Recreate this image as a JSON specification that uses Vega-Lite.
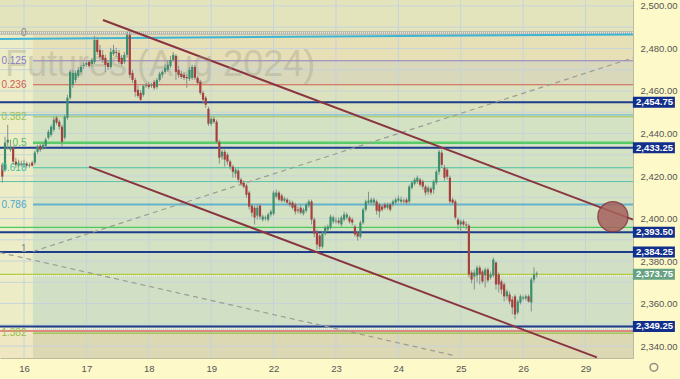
{
  "$schema": "https://vega.github.io/schema/vega-lite/v6.json",
  "width": 633,
  "height": 358,
  "autosize": {"type": "none"},
  "padding": {"left": 0, "top": 0, "right": 47, "bottom": 21},
  "background": "#fdf9c9",
  "config": {"view": {"stroke": null}, "font": "Liberation Sans"},
  "resolve": {"scale": {"color": "independent"}},
  "datasets": {
    "zones": [
      {"z": "top", "b1": -8.85, "b2": 224.5, "lo": 2487.3, "hi": 2502.8},
      {"z": "strip", "b1": -8.85, "b2": 3.3, "lo": 2346.0, "hi": 2487.3},
      {"z": "strip-low", "b1": -8.85, "b2": 3.3, "lo": 2334.4, "hi": 2346.0},
      {"z": "0-0.125", "b1": 3.3, "b2": 224.5, "lo": 2474.2, "hi": 2487.3},
      {"z": "0.125-0.236", "b1": 3.3, "b2": 224.5, "lo": 2462.9, "hi": 2474.2},
      {"z": "0.236-0.382", "b1": 3.3, "b2": 224.5, "lo": 2447.9, "hi": 2462.9},
      {"z": "0.382-1", "b1": 3.3, "b2": 224.5, "lo": 2384.25, "hi": 2447.9},
      {"z": "1-1.382", "b1": 3.3, "b2": 224.5, "lo": 2346.0, "hi": 2384.25},
      {"z": "beyond", "b1": 3.3, "b2": 224.5, "lo": 2334.4, "hi": 2346.0}
    ],
    "gridy": [{"p": 2340}, {"p": 2350}, {"p": 2360}, {"p": 2370}, {"p": 2380}, {"p": 2390}, {"p": 2400}, {"p": 2410}, {"p": 2420}, {"p": 2430}, {"p": 2440}, {"p": 2450}, {"p": 2460}, {"p": 2470}, {"p": 2480}, {"p": 2490}, {"p": 2500}],
    "gridx": [{"b": 0}, {"b": 23}, {"b": 46}, {"b": 69}, {"b": 92}, {"b": 115}, {"b": 138}, {"b": 161}, {"b": 184}, {"b": 207}],
    "fib": [
      {"lvl": "0.125", "p": 2474.2},
      {"lvl": "0.236", "p": 2462.9},
      {"lvl": "0.382", "p": 2447.9},
      {"lvl": "0.5", "p": 2435.7},
      {"lvl": "0.618", "p": 2423.9},
      {"lvl": "0.786", "p": 2406.6},
      {"lvl": "1.382", "p": 2346.0}
    ],
    "keylevels": [
      {"kind": "zero", "p": 2487.3},
      {"kind": "support", "p": 2454.75},
      {"kind": "aux-blue", "p": 2448.8},
      {"kind": "support", "p": 2433.25},
      {"kind": "aux-teal", "p": 2417.4},
      {"kind": "aux-green", "p": 2395.8},
      {"kind": "support", "p": 2393.5},
      {"kind": "support", "p": 2384.25},
      {"kind": "last", "p": 2373.75},
      {"kind": "support", "p": 2349.25},
      {"kind": "aux-red", "p": 2347.1}
    ],
    "dotted": [{"p": 2487.3}, {"p": 2373.0}, {"p": 2348.2}],
    "trends": [
      {"id": "cyan", "b": -8.85, "p": 2484.5},
      {"id": "cyan", "b": 224.5, "p": 2486.6},
      {"id": "upper", "b": 29.1, "p": 2493.4},
      {"id": "upper", "b": 224.5, "p": 2399.5},
      {"id": "lower", "b": 24.0, "p": 2424.4},
      {"id": "lower", "b": 211.2, "p": 2334.7}
    ],
    "guides": [
      {"id": "up", "b": 3.3, "p": 2384.5},
      {"id": "up", "b": 224.5, "p": 2475.6},
      {"id": "down", "b": -8.85, "p": 2384.0},
      {"id": "down", "b": 158.1, "p": 2335.7}
    ],
    "watermark": [{"text": "Futures (Aug 2024)", "b": -7, "p": 2472.0}],
    "candles": [
      {"b":-8,"o":2425.3,"c":2419.7,"h":2426.3,"l":2416.9},
      {"b":-7,"o":2423.0,"c":2435.7,"h":2438.5,"l":2422.0},
      {"b":-6,"o":2435.7,"c":2437.1,"h":2444.1,"l":2432.4},
      {"b":-5,"o":2432.4,"c":2433.8,"h":2437.1,"l":2431.4},
      {"b":-4,"o":2433.3,"c":2426.8,"h":2434.2,"l":2425.3},
      {"b":-3,"o":2426.8,"c":2425.3,"h":2428.6,"l":2423.9},
      {"b":-2,"o":2424.9,"c":2426.3,"h":2427.7,"l":2423.9},
      {"b":-1,"o":2425.8,"c":2425.3,"h":2427.2,"l":2424.4},
      {"b":0,"o":2425.3,"c":2425.8,"h":2427.7,"l":2423.9},
      {"b":1,"o":2425.8,"c":2424.9,"h":2426.7,"l":2423.9},
      {"b":2,"o":2424.9,"c":2425.3,"h":2426.3,"l":2423.9},
      {"b":3,"o":2426.3,"c":2424.9,"h":2427.2,"l":2424.4},
      {"b":4,"o":2426.3,"c":2431.0,"h":2431.9,"l":2425.3},
      {"b":5,"o":2431.4,"c":2433.8,"h":2434.7,"l":2430.5},
      {"b":6,"o":2434.2,"c":2432.4,"h":2435.2,"l":2431.4},
      {"b":7,"o":2433.3,"c":2434.7,"h":2435.7,"l":2432.4},
      {"b":8,"o":2434.2,"c":2437.1,"h":2438.0,"l":2433.3},
      {"b":9,"o":2438.0,"c":2440.8,"h":2441.8,"l":2437.1},
      {"b":10,"o":2439.4,"c":2443.2,"h":2444.1,"l":2438.5},
      {"b":11,"o":2441.8,"c":2446.5,"h":2447.9,"l":2440.8},
      {"b":12,"o":2447.4,"c":2445.1,"h":2448.3,"l":2444.1},
      {"b":13,"o":2445.5,"c":2443.2,"h":2446.5,"l":2441.8},
      {"b":14,"o":2443.2,"c":2436.1,"h":2444.1,"l":2433.8},
      {"b":15,"o":2438.0,"c":2447.9,"h":2448.8,"l":2437.1},
      {"b":16,"o":2447.4,"c":2456.8,"h":2458.2,"l":2446.5},
      {"b":17,"o":2456.8,"c":2469.0,"h":2469.9,"l":2455.9},
      {"b":18,"o":2462.9,"c":2468.5,"h":2469.9,"l":2461.5},
      {"b":19,"o":2465.2,"c":2468.5,"h":2469.5,"l":2463.8},
      {"b":20,"o":2467.1,"c":2469.9,"h":2471.3,"l":2466.2},
      {"b":21,"o":2469.0,"c":2471.3,"h":2472.3,"l":2468.1},
      {"b":22,"o":2471.8,"c":2472.3,"h":2473.7,"l":2470.4},
      {"b":23,"o":2472.3,"c":2473.2,"h":2474.6,"l":2471.3},
      {"b":24,"o":2473.7,"c":2471.8,"h":2474.6,"l":2470.9},
      {"b":25,"o":2472.7,"c":2474.6,"h":2475.6,"l":2471.3},
      {"b":26,"o":2473.7,"c":2484.0,"h":2485.9,"l":2472.7},
      {"b":27,"o":2484.0,"c":2478.4,"h":2485.4,"l":2477.0},
      {"b":28,"o":2479.3,"c":2476.0,"h":2481.7,"l":2474.6},
      {"b":29,"o":2477.0,"c":2474.6,"h":2479.3,"l":2473.2},
      {"b":30,"o":2475.6,"c":2472.3,"h":2477.0,"l":2469.0},
      {"b":31,"o":2473.2,"c":2471.3,"h":2474.6,"l":2469.9},
      {"b":32,"o":2471.3,"c":2478.4,"h":2480.3,"l":2470.4},
      {"b":33,"o":2477.4,"c":2479.3,"h":2481.7,"l":2476.5},
      {"b":34,"o":2478.4,"c":2477.9,"h":2480.3,"l":2476.0},
      {"b":35,"o":2477.9,"c":2473.7,"h":2479.3,"l":2472.7},
      {"b":36,"o":2475.6,"c":2472.7,"h":2477.0,"l":2471.8},
      {"b":37,"o":2473.7,"c":2477.0,"h":2478.4,"l":2472.7},
      {"b":38,"o":2477.0,"c":2486.4,"h":2487.8,"l":2475.6},
      {"b":39,"o":2486.4,"c":2467.6,"h":2487.8,"l":2466.2},
      {"b":40,"o":2468.5,"c":2465.2,"h":2469.9,"l":2463.8},
      {"b":41,"o":2465.2,"c":2459.6,"h":2466.2,"l":2457.3},
      {"b":42,"o":2460.5,"c":2457.7,"h":2462.4,"l":2456.8},
      {"b":43,"o":2459.1,"c":2455.9,"h":2460.5,"l":2454.9},
      {"b":44,"o":2458.2,"c":2462.4,"h":2463.3,"l":2457.3},
      {"b":45,"o":2462.4,"c":2462.9,"h":2463.8,"l":2461.5},
      {"b":46,"o":2462.9,"c":2461.9,"h":2464.3,"l":2461.0},
      {"b":47,"o":2462.4,"c":2462.9,"h":2463.8,"l":2461.5},
      {"b":48,"o":2464.3,"c":2461.5,"h":2465.2,"l":2460.5},
      {"b":49,"o":2461.9,"c":2465.2,"h":2466.2,"l":2461.0},
      {"b":50,"o":2465.2,"c":2468.1,"h":2469.0,"l":2464.3},
      {"b":51,"o":2467.6,"c":2469.0,"h":2469.9,"l":2466.2},
      {"b":52,"o":2469.0,"c":2470.9,"h":2472.7,"l":2468.1},
      {"b":53,"o":2469.9,"c":2472.3,"h":2474.6,"l":2469.0},
      {"b":54,"o":2471.8,"c":2474.6,"h":2476.5,"l":2470.9},
      {"b":55,"o":2474.6,"c":2477.0,"h":2478.4,"l":2473.7},
      {"b":56,"o":2476.5,"c":2469.0,"h":2477.4,"l":2465.2},
      {"b":57,"o":2469.9,"c":2467.6,"h":2471.8,"l":2466.2},
      {"b":58,"o":2468.1,"c":2466.6,"h":2469.5,"l":2465.7},
      {"b":59,"o":2467.6,"c":2466.2,"h":2469.0,"l":2465.2},
      {"b":60,"o":2466.6,"c":2466.0,"h":2468.1,"l":2461.5},
      {"b":61,"o":2465.7,"c":2469.9,"h":2471.3,"l":2464.7},
      {"b":62,"o":2466.2,"c":2471.3,"h":2472.3,"l":2465.2},
      {"b":63,"o":2471.3,"c":2466.2,"h":2472.3,"l":2465.2},
      {"b":64,"o":2466.2,"c":2463.8,"h":2467.1,"l":2462.9},
      {"b":65,"o":2464.3,"c":2459.1,"h":2465.2,"l":2458.2},
      {"b":66,"o":2459.1,"c":2455.9,"h":2460.1,"l":2454.0},
      {"b":67,"o":2456.8,"c":2453.5,"h":2457.7,"l":2452.1},
      {"b":68,"o":2451.6,"c":2444.6,"h":2452.6,"l":2443.6},
      {"b":69,"o":2444.6,"c":2446.9,"h":2447.9,"l":2443.6},
      {"b":70,"o":2446.9,"c":2445.5,"h":2447.9,"l":2444.6},
      {"b":71,"o":2445.5,"c":2436.1,"h":2446.5,"l":2435.2},
      {"b":72,"o":2436.1,"c":2428.6,"h":2437.1,"l":2425.8},
      {"b":73,"o":2429.1,"c":2431.4,"h":2432.4,"l":2427.7},
      {"b":74,"o":2431.4,"c":2427.7,"h":2432.4,"l":2424.4},
      {"b":75,"o":2430.0,"c":2426.8,"h":2431.0,"l":2425.3},
      {"b":76,"o":2426.8,"c":2424.4,"h":2427.7,"l":2423.0},
      {"b":77,"o":2424.4,"c":2422.0,"h":2425.3,"l":2419.2},
      {"b":78,"o":2421.1,"c":2423.0,"h":2423.9,"l":2419.2},
      {"b":79,"o":2422.5,"c":2418.3,"h":2423.5,"l":2416.9},
      {"b":80,"o":2418.3,"c":2416.4,"h":2419.2,"l":2415.5},
      {"b":81,"o":2416.9,"c":2415.0,"h":2417.8,"l":2414.1},
      {"b":82,"o":2415.5,"c":2411.2,"h":2416.4,"l":2409.8},
      {"b":83,"o":2412.2,"c":2405.6,"h":2413.1,"l":2404.2},
      {"b":84,"o":2406.1,"c":2402.8,"h":2407.0,"l":2400.9},
      {"b":85,"o":2405.1,"c":2400.5,"h":2406.1,"l":2397.2},
      {"b":86,"o":2401.4,"c":2405.1,"h":2406.6,"l":2399.5},
      {"b":87,"o":2406.1,"c":2400.9,"h":2407.0,"l":2399.5},
      {"b":88,"o":2399.5,"c":2400.9,"h":2401.9,"l":2398.6},
      {"b":89,"o":2400.0,"c":2400.5,"h":2401.4,"l":2399.0},
      {"b":90,"o":2399.5,"c":2401.9,"h":2402.8,"l":2398.6},
      {"b":91,"o":2401.9,"c":2403.3,"h":2404.2,"l":2400.9},
      {"b":92,"o":2402.3,"c":2412.2,"h":2413.1,"l":2401.4},
      {"b":93,"o":2410.3,"c":2412.2,"h":2413.6,"l":2409.4},
      {"b":94,"o":2412.2,"c":2408.9,"h":2413.1,"l":2408.0},
      {"b":95,"o":2410.8,"c":2408.4,"h":2411.7,"l":2407.5},
      {"b":96,"o":2408.4,"c":2409.4,"h":2410.3,"l":2407.5},
      {"b":97,"o":2408.9,"c":2407.5,"h":2409.8,"l":2406.6},
      {"b":98,"o":2407.5,"c":2406.6,"h":2408.9,"l":2405.6},
      {"b":99,"o":2407.5,"c":2405.1,"h":2408.4,"l":2404.2},
      {"b":100,"o":2406.6,"c":2403.3,"h":2407.5,"l":2401.9},
      {"b":101,"o":2404.2,"c":2403.7,"h":2405.6,"l":2402.3},
      {"b":102,"o":2405.1,"c":2402.8,"h":2406.6,"l":2401.9},
      {"b":103,"o":2402.3,"c":2404.2,"h":2405.1,"l":2401.4},
      {"b":104,"o":2403.7,"c":2406.6,"h":2407.5,"l":2402.8},
      {"b":105,"o":2406.1,"c":2408.0,"h":2408.9,"l":2405.1},
      {"b":106,"o":2408.0,"c":2399.5,"h":2408.9,"l":2397.2},
      {"b":107,"o":2399.5,"c":2392.9,"h":2400.5,"l":2391.1},
      {"b":108,"o":2393.9,"c":2387.8,"h":2394.8,"l":2385.4},
      {"b":109,"o":2392.0,"c":2386.8,"h":2392.9,"l":2385.4},
      {"b":110,"o":2386.8,"c":2392.9,"h":2393.9,"l":2385.9},
      {"b":111,"o":2392.9,"c":2395.7,"h":2396.7,"l":2392.0},
      {"b":112,"o":2394.8,"c":2396.2,"h":2397.2,"l":2393.9},
      {"b":113,"o":2395.7,"c":2400.9,"h":2401.9,"l":2394.8},
      {"b":114,"o":2398.6,"c":2400.5,"h":2401.4,"l":2397.6},
      {"b":115,"o":2398.6,"c":2399.0,"h":2400.5,"l":2397.6},
      {"b":116,"o":2399.0,"c":2398.1,"h":2400.5,"l":2397.2},
      {"b":117,"o":2397.2,"c":2400.5,"h":2401.4,"l":2396.2},
      {"b":118,"o":2399.5,"c":2401.9,"h":2403.3,"l":2398.6},
      {"b":119,"o":2400.5,"c":2401.9,"h":2402.8,"l":2399.5},
      {"b":120,"o":2400.5,"c":2398.6,"h":2401.4,"l":2397.6},
      {"b":121,"o":2399.5,"c":2398.1,"h":2400.5,"l":2396.7},
      {"b":122,"o":2396.2,"c":2392.5,"h":2397.2,"l":2391.5},
      {"b":123,"o":2393.4,"c":2391.5,"h":2394.3,"l":2389.6},
      {"b":124,"o":2391.5,"c":2398.1,"h":2399.0,"l":2390.6},
      {"b":125,"o":2398.1,"c":2404.2,"h":2405.1,"l":2397.2},
      {"b":126,"o":2404.2,"c":2408.0,"h":2408.9,"l":2403.3},
      {"b":127,"o":2407.5,"c":2408.4,"h":2412.6,"l":2406.6},
      {"b":128,"o":2407.5,"c":2408.9,"h":2409.8,"l":2406.6},
      {"b":129,"o":2407.5,"c":2408.9,"h":2409.8,"l":2406.1},
      {"b":130,"o":2408.0,"c":2403.7,"h":2408.9,"l":2401.9},
      {"b":131,"o":2406.6,"c":2403.3,"h":2407.5,"l":2400.5},
      {"b":132,"o":2405.6,"c":2404.2,"h":2406.6,"l":2403.3},
      {"b":133,"o":2406.6,"c":2405.1,"h":2407.5,"l":2404.2},
      {"b":134,"o":2405.1,"c":2406.6,"h":2407.5,"l":2404.2},
      {"b":135,"o":2406.6,"c":2404.2,"h":2407.5,"l":2403.3},
      {"b":136,"o":2406.6,"c":2408.0,"h":2408.9,"l":2405.6},
      {"b":137,"o":2407.5,"c":2408.9,"h":2409.8,"l":2406.6},
      {"b":138,"o":2408.4,"c":2409.4,"h":2410.8,"l":2407.5},
      {"b":139,"o":2408.0,"c":2408.9,"h":2410.3,"l":2407.0},
      {"b":140,"o":2408.4,"c":2408.0,"h":2409.4,"l":2407.0},
      {"b":141,"o":2408.9,"c":2407.5,"h":2409.8,"l":2406.6},
      {"b":142,"o":2408.0,"c":2415.0,"h":2415.9,"l":2407.0},
      {"b":143,"o":2414.5,"c":2416.9,"h":2417.8,"l":2413.6},
      {"b":144,"o":2416.4,"c":2418.3,"h":2419.2,"l":2415.5},
      {"b":145,"o":2417.4,"c":2419.2,"h":2420.2,"l":2416.4},
      {"b":146,"o":2418.3,"c":2415.9,"h":2419.2,"l":2415.0},
      {"b":147,"o":2417.4,"c":2415.0,"h":2418.3,"l":2413.6},
      {"b":148,"o":2415.0,"c":2412.2,"h":2415.9,"l":2410.8},
      {"b":149,"o":2412.6,"c":2414.5,"h":2415.5,"l":2411.2},
      {"b":150,"o":2414.1,"c":2412.2,"h":2415.0,"l":2411.2},
      {"b":151,"o":2413.6,"c":2417.4,"h":2418.3,"l":2411.7},
      {"b":152,"o":2416.9,"c":2422.0,"h":2423.0,"l":2415.9},
      {"b":153,"o":2422.0,"c":2431.4,"h":2432.4,"l":2420.6},
      {"b":154,"o":2431.0,"c":2425.3,"h":2432.4,"l":2423.9},
      {"b":155,"o":2423.9,"c":2419.2,"h":2425.3,"l":2417.8},
      {"b":156,"o":2423.0,"c":2419.7,"h":2423.9,"l":2418.3},
      {"b":157,"o":2419.2,"c":2408.0,"h":2420.2,"l":2407.0},
      {"b":158,"o":2408.9,"c":2407.5,"h":2409.8,"l":2406.6},
      {"b":159,"o":2408.0,"c":2400.5,"h":2408.9,"l":2399.5},
      {"b":160,"o":2399.5,"c":2397.2,"h":2400.5,"l":2394.8},
      {"b":161,"o":2397.2,"c":2398.6,"h":2399.5,"l":2393.9},
      {"b":162,"o":2398.6,"c":2397.2,"h":2399.5,"l":2396.2},
      {"b":163,"o":2397.2,"c":2396.7,"h":2398.6,"l":2394.8},
      {"b":164,"o":2396.7,"c":2373.7,"h":2397.6,"l":2372.3},
      {"b":165,"o":2374.6,"c":2371.3,"h":2375.6,"l":2369.5},
      {"b":166,"o":2372.7,"c":2374.6,"h":2376.0,"l":2366.6},
      {"b":167,"o":2373.2,"c":2376.9,"h":2377.9,"l":2369.9},
      {"b":168,"o":2376.9,"c":2373.7,"h":2377.9,"l":2369.0},
      {"b":169,"o":2375.1,"c":2370.4,"h":2376.0,"l":2369.5},
      {"b":170,"o":2373.2,"c":2376.0,"h":2376.9,"l":2367.6},
      {"b":171,"o":2376.0,"c":2370.9,"h":2376.9,"l":2369.9},
      {"b":172,"o":2372.3,"c":2373.7,"h":2375.1,"l":2371.3},
      {"b":173,"o":2373.2,"c":2380.7,"h":2381.7,"l":2372.3},
      {"b":174,"o":2379.3,"c":2369.0,"h":2379.8,"l":2366.6},
      {"b":175,"o":2373.7,"c":2369.0,"h":2374.6,"l":2365.2},
      {"b":176,"o":2370.4,"c":2366.6,"h":2371.3,"l":2364.3},
      {"b":177,"o":2369.0,"c":2363.4,"h":2369.9,"l":2361.0},
      {"b":178,"o":2363.4,"c":2365.7,"h":2366.6,"l":2361.9},
      {"b":179,"o":2364.3,"c":2361.0,"h":2365.7,"l":2359.6},
      {"b":180,"o":2361.9,"c":2358.2,"h":2363.4,"l":2354.9},
      {"b":181,"o":2363.4,"c":2354.9,"h":2364.3,"l":2352.6},
      {"b":182,"o":2355.8,"c":2361.0,"h":2361.9,"l":2354.9},
      {"b":183,"o":2360.5,"c":2363.4,"h":2364.3,"l":2359.6},
      {"b":184,"o":2362.4,"c":2362.9,"h":2363.8,"l":2361.5},
      {"b":185,"o":2362.4,"c":2363.4,"h":2364.3,"l":2361.5},
      {"b":186,"o":2363.4,"c":2361.0,"h":2364.3,"l":2360.5},
      {"b":187,"o":2360.5,"c":2371.3,"h":2372.3,"l":2356.3},
      {"b":188,"o":2371.3,"c":2373.7,"h":2377.0,"l":2369.9},
      {"b":189,"o":2373.7,"c":2374.2,"h":2375.1,"l":2372.3}
    ],
    "circle": [{"b": 217.1, "p": 2400.9}],
    "fiblabels": [
      {"t": "0", "p": 2487.3},
      {"t": "0.125", "p": 2474.2},
      {"t": "0.236", "p": 2462.9},
      {"t": "0.382", "p": 2447.9},
      {"t": "0.5", "p": 2435.7},
      {"t": "0.618", "p": 2423.9},
      {"t": "0.786", "p": 2406.6},
      {"t": "1", "p": 2385.5},
      {"t": "1.382", "p": 2346.0}
    ],
    "tags": [
      {"kind": "level", "p": 2454.75},
      {"kind": "level", "p": 2433.25},
      {"kind": "level", "p": 2393.5},
      {"kind": "level", "p": 2384.25},
      {"kind": "last", "p": 2373.75},
      {"kind": "level", "p": 2349.25}
    ]
  },
  "layer": [
    {
      "data": {"name": "zones"},
      "mark": {"type": "rect"},
      "encoding": {
        "x": {"field": "b1", "type": "quantitative", "scale": {"domain": [-8.85, 224.5], "nice": false, "zero": false},
          "axis": {"title": null, "orient": "bottom", "values": [0, 23, 46, 69, 92, 115, 138, 161, 184, 207],
            "labelExpr": "['16','17','18','19','22','23','24','25','26','29'][round(datum.value/23)]",
            "ticks": false, "grid": false, "domain": true, "domainColor": "#bdb99c", "labelColor": "#555555", "labelFontSize": 9.5,
            "labelPadding": 5, "labelFont": "Liberation Sans", "labelOverlap": false, "labelFlush": false}},
        "x2": {"field": "b2"},
        "y": {"field": "lo", "type": "quantitative", "scale": {"domain": [2334.4, 2502.8], "nice": false, "zero": false},
          "axis": {"title": null, "orient": "right", "values": [2340, 2360, 2380, 2400, 2420, 2440, 2460, 2480, 2500],
            "format": ",.2f", "ticks": false, "grid": false, "domain": true, "domainColor": "#bdb99c", "labelColor": "#555555",
            "labelFontSize": 9.5, "labelPadding": 7, "labelFont": "Liberation Sans", "labelOverlap": false}},
        "y2": {"field": "hi"},
        "color": {"field": "z", "type": "nominal", "legend": null,
          "scale": {"domain": ["top", "strip", "strip-low", "0-0.125", "0.125-0.236", "0.236-0.382", "0.382-1", "1-1.382", "beyond"],
            "range": ["#e4e4bc", "#ecedc6", "#efe6c2", "#e7dfb6", "#d9d8bb", "#dce2bd", "#d3e2c3", "#d1dfc4", "#dcd8b4"]}}
      }
    },
    {
      "data": {"name": "gridy"},
      "mark": {"type": "rule", "color": "#c6d4da", "strokeWidth": 1},
      "encoding": {"y": {"field": "p", "type": "quantitative"}}
    },
    {
      "data": {"name": "gridx"},
      "mark": {"type": "rule", "color": "#c6d4da", "strokeWidth": 1},
      "encoding": {"x": {"field": "b", "type": "quantitative"}}
    },
    {
      "data": {"name": "fib"},
      "mark": {"type": "rule"},
      "encoding": {
        "x": {"datum": 3.3, "type": "quantitative"},
        "x2": {"datum": 224.5},
        "y": {"field": "p", "type": "quantitative"},
        "color": {"field": "lvl", "type": "nominal", "legend": null,
          "scale": {"domain": ["0.125", "0.236", "0.382", "0.5", "0.618", "0.786", "1.382"],
            "range": ["#8f7cc6", "#cf5c50", "#a2c45a", "#58cc68", "#44c2a2", "#66b2cc", "#a2c45a"]}},
        "strokeWidth": {"condition": [{"test": "datum.lvl == '0.5'", "value": 2.5}, {"test": "datum.lvl == '0.786'", "value": 2}, {"test": "datum.lvl == '1.382'", "value": 1.5}], "value": 1.1}
      }
    },
    {
      "data": {"name": "keylevels"},
      "mark": {"type": "rule"},
      "encoding": {
        "y": {"field": "p", "type": "quantitative"},
        "color": {"field": "kind", "type": "nominal", "legend": null,
          "scale": {"domain": ["support", "zero", "aux-blue", "aux-teal", "aux-green", "last", "aux-red"],
            "range": ["#1d3c8c", "#b5b5aa", "#78bcd4", "#5ec2ae", "#4ccc5c", "#b2cc3e", "#e06b6b"]}},
        "strokeWidth": {"condition": [{"test": "datum.kind == 'zero'", "value": 3.5}, {"test": "datum.kind == 'support'", "value": 2}, {"test": "datum.kind == 'aux-teal'", "value": 1}], "value": 1.3}
      }
    },
    {
      "data": {"name": "dotted"},
      "mark": {"type": "rule", "color": "#f6f6ee", "strokeWidth": 1.3, "strokeDash": [1, 1]},
      "encoding": {"y": {"field": "p", "type": "quantitative"}}
    },
    {
      "data": {"name": "guides"},
      "mark": {"type": "line", "color": "#9c9c96", "strokeWidth": 1.2, "strokeDash": [5, 4]},
      "encoding": {
        "x": {"field": "b", "type": "quantitative"},
        "y": {"field": "p", "type": "quantitative"},
        "detail": {"field": "id", "type": "nominal"}
      }
    },
    {
      "data": {"name": "trends"},
      "mark": {"type": "line", "strokeWidth": 2},
      "encoding": {
        "x": {"field": "b", "type": "quantitative"},
        "y": {"field": "p", "type": "quantitative"},
        "color": {"field": "id", "type": "nominal", "legend": null,
          "scale": {"domain": ["cyan", "upper", "lower"], "range": ["#3fb5d5", "#8a3440", "#8a3440"]}}
      }
    },
    {
      "data": {"name": "watermark"},
      "mark": {"type": "text", "align": "left", "baseline": "middle", "fontSize": 36, "font": "Liberation Sans", "color": "#9d9d8c", "opacity": 0.35},
      "encoding": {
        "x": {"field": "b", "type": "quantitative"},
        "y": {"field": "p", "type": "quantitative"},
        "text": {"field": "text"}
      }
    },
    {
      "data": {"name": "candles"},
      "mark": {"type": "rule", "strokeWidth": 1, "color": "#84938b"},
      "encoding": {
        "x": {"field": "b", "type": "quantitative"},
        "y": {"field": "l", "type": "quantitative"},
        "y2": {"field": "h"}
      }
    },
    {
      "data": {"name": "candles"},
      "mark": {"type": "rule", "strokeWidth": 2.2, "strokeCap": "butt"},
      "encoding": {
        "x": {"field": "b", "type": "quantitative"},
        "y": {"field": "o", "type": "quantitative"},
        "y2": {"field": "c"},
        "color": {"condition": {"test": "datum.c >= datum.o", "value": "#3c8e6e"}, "value": "#a5403e"}
      }
    },
    {
      "data": {"name": "circle"},
      "mark": {"type": "point", "shape": "circle", "filled": true, "size": 900, "color": "#a6625d", "opacity": 0.85, "stroke": "#8a3440", "strokeWidth": 1.5, "strokeOpacity": 1},
      "encoding": {
        "x": {"field": "b", "type": "quantitative"},
        "y": {"field": "p", "type": "quantitative"}
      }
    },
    {
      "data": {"name": "fiblabels"},
      "mark": {"type": "text", "align": "right", "baseline": "middle", "fontSize": 10, "font": "Liberation Sans"},
      "encoding": {
        "x": {"datum": 0.92, "type": "quantitative"},
        "y": {"field": "p", "type": "quantitative"},
        "text": {"field": "t"},
        "color": {"field": "t", "type": "nominal", "legend": null,
          "scale": {"domain": ["0", "0.125", "0.236", "0.382", "0.5", "0.618", "0.786", "1", "1.382"],
            "range": ["#8a8a84", "#8878c8", "#d06050", "#98c050", "#50c060", "#40c0a0", "#4aa8d0", "#8a8a84", "#98c050"]}}
      }
    },
    {
      "data": {"name": "tags"},
      "mark": {"type": "point", "filled": true, "opacity": 1, "size": 1764, "shape": "M-1,-0.262L1,-0.262L1,0.262L-1,0.262Z"},
      "encoding": {
        "x": {"datum": 232.2, "type": "quantitative"},
        "y": {"field": "p", "type": "quantitative"},
        "color": {"field": "kind", "type": "nominal", "legend": null,
          "scale": {"domain": ["level", "last"], "range": ["#122f8c", "#66a283"]}}
      }
    },
    {
      "data": {"name": "tags"},
      "mark": {"type": "text", "align": "left", "baseline": "middle", "fontSize": 9.5, "fontWeight": "bold", "font": "Liberation Sans", "color": "#ffffff"},
      "encoding": {
        "x": {"datum": 225.6, "type": "quantitative"},
        "y": {"field": "p", "type": "quantitative"},
        "text": {"field": "p", "type": "quantitative", "format": ",.2f"}
      }
    },
    {
      "data": {"values": [{"icon": "settings"}]},
      "mark": {"type": "point", "shape": "circle", "filled": false, "size": 60, "color": "#666666", "strokeWidth": 1.5},
      "encoding": {
        "x": {"datum": 232.2, "type": "quantitative"},
        "y": {"datum": 2330.0, "type": "quantitative"}
      }
    }
  ]
}
